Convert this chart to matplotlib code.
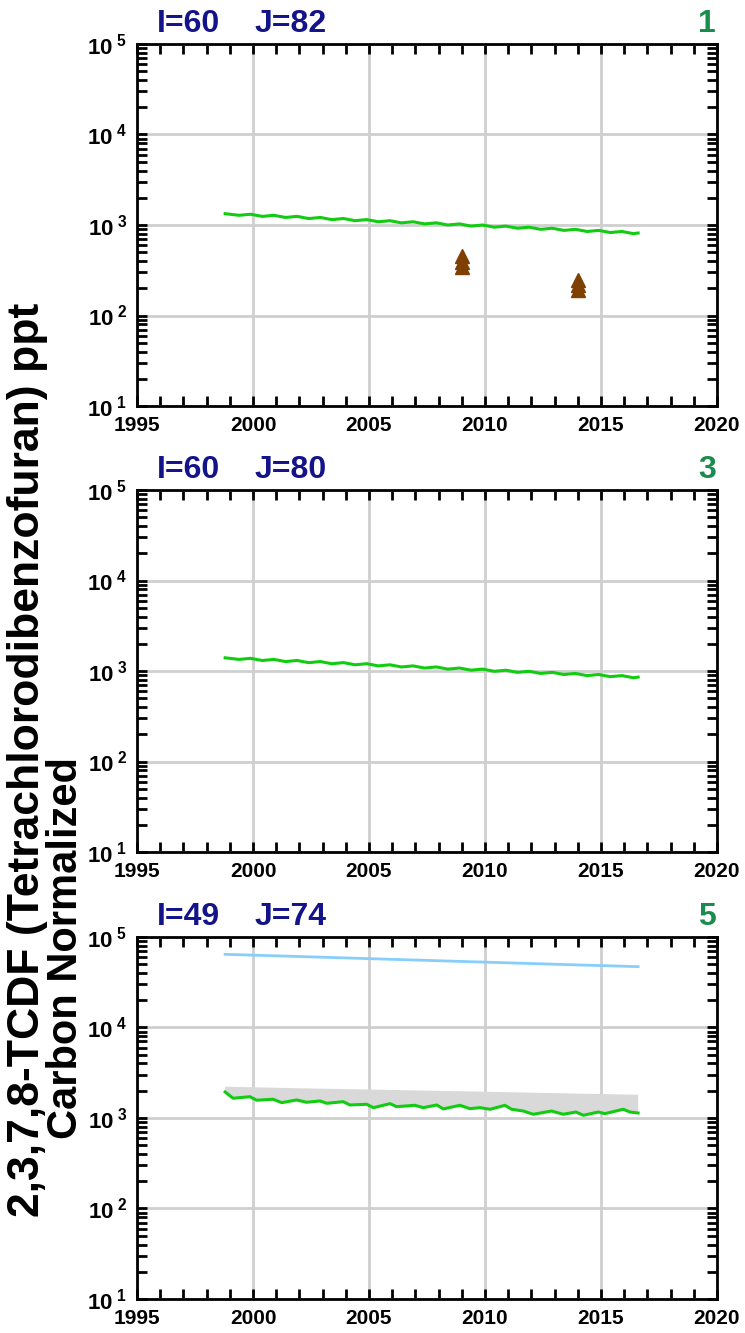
import numpy as np
import matplotlib
matplotlib.use("Agg")
import matplotlib.pyplot as plt
from matplotlib.ticker import LogLocator, MultipleLocator, NullFormatter

plt.rcParams['font.family'] = ['Liberation Sans', 'DejaVu Sans']
plt.rcParams['font.weight'] = 'bold'
plt.rcParams['mathtext.fontset'] = 'custom'
plt.rcParams['mathtext.rm'] = 'Liberation Sans:bold'
plt.rcParams['mathtext.it'] = 'Liberation Sans:bold'
plt.rcParams['mathtext.bf'] = 'Liberation Sans:bold'

# panel headers
panel_i = ["I=60", "I=60", "I=49"]
panel_j = ["J=82", "J=80", "J=74"]
panel_num = ["1", "3", "5"]

# model series, panels 1 and 2 (semi-annual readings)
t12 = [1998.8, 1999.4, 1999.9, 2000.4, 2000.9, 2001.4, 2001.9, 2002.4, 2002.9,
       2003.4, 2003.9, 2004.4, 2004.9, 2005.4, 2005.9, 2006.4, 2006.9, 2007.4,
       2007.9, 2008.4, 2008.9, 2009.4, 2009.9, 2010.4, 2010.9, 2011.4, 2011.9,
       2012.4, 2012.9, 2013.4, 2013.9, 2014.4, 2014.9, 2015.4, 2015.9, 2016.4,
       2016.6]
model1 = [1334, 1280, 1315, 1245, 1280, 1212, 1246, 1178, 1212, 1147, 1180, 1116,
          1148, 1086, 1116, 1056, 1086, 1028, 1057, 1000, 1028, 973, 1000, 946, 972,
          921, 946, 896, 921, 872, 896, 848, 872, 826, 848, 803, 816]
model2 = [1400, 1344, 1381, 1307, 1344, 1273, 1308, 1237, 1273, 1204, 1239, 1172,
          1205, 1140, 1172, 1109, 1140, 1079, 1110, 1050, 1079, 1022, 1050, 993, 1021,
          967, 993, 941, 967, 916, 941, 890, 916, 867, 890, 843, 857]

# observations, panel 1
obs_t = [2009.0, 2009.0, 2009.0, 2014.0, 2014.0, 2014.0]
obs_v = [450, 390, 340, 245, 215, 192]

# model series, panel 3
t3 = [1998.8, 1999.14, 1999.87, 2000.16, 2000.86, 2001.24, 2001.88, 2002.31,
      2002.89, 2003.18, 2003.89, 2004.18, 2004.9, 2005.19, 2005.91, 2006.19,
      2006.98, 2007.34, 2007.92, 2008.2, 2008.92, 2009.35, 2009.78, 2010.22,
      2010.86, 2011.15, 2011.65, 2012.08, 2012.87, 2013.37, 2013.92, 2014.24,
      2014.88, 2015.17, 2015.96, 2016.25, 2016.6]
model3 = [1937, 1652, 1719, 1571, 1611, 1477, 1582, 1492, 1542, 1453, 1514, 1393,
          1417, 1300, 1440, 1334, 1381, 1300, 1393, 1260, 1381, 1268, 1300, 1248,
          1380, 1248, 1194, 1099, 1194, 1099, 1164, 1071, 1164, 1117, 1248, 1164,
          1135]
band_t = [1998.8, 2002.0, 2006.0, 2010.0, 2014.0, 2016.6]
band_top = [2218, 2130, 2040, 1950, 1860, 1806]
blue_t = [1998.8, 2002.0, 2006.0, 2010.0, 2014.0, 2016.6]
blue_v = [64300, 60800, 56600, 52700, 49100, 47000]

navy = '#13138a'
green_txt = '#1a8c4e'
line_green = '#11cc11'

fig = plt.figure(figsize=(7.45, 13.33), dpi=100)
bottoms = [0.6954, 0.3608, 0.0255]
axes = []
for k in range(3):
    ax = fig.add_axes([0.1839, bottoms[k], 0.7785, 0.2716])
    axes.append(ax)

    ax.set_yscale('log')
    ax.set_xlim(1995, 2020)
    ax.set_ylim(10, 1e5)
    ax.set_xticks(range(1995, 2021, 5))
    ax.set_xticklabels([str(y) for y in range(1995, 2021, 5)], fontsize=15, fontweight='bold')
    ax.xaxis.set_minor_locator(MultipleLocator(1))
    ax.set_yticks([1e1, 1e2, 1e3, 1e4, 1e5])
    ax.set_yticklabels([r'$10^{\ %d}$' % e for e in range(1, 6)], fontsize=16)
    ax.yaxis.set_minor_locator(LogLocator(base=10, subs=np.arange(2, 10), numticks=20))
    ax.yaxis.set_minor_formatter(NullFormatter())
    ax.tick_params(which='both', direction='in', top=True, right=True, width=2, length=7)
    ax.tick_params(axis='x', pad=7)
    ax.tick_params(axis='y', pad=7)
    ax.grid(True, which='major', color='#cfcfcf', linewidth=2)
    ax.set_axisbelow(True)
    for s in ax.spines.values():
        s.set_linewidth(2)

    ax.text(0.0345, 1.033, panel_i[k], transform=ax.transAxes, fontsize=23,
            fontweight='bold', color=navy, va='baseline', ha='left')
    ax.text(0.203, 1.033, panel_j[k], transform=ax.transAxes, fontsize=23,
            fontweight='bold', color=navy, va='baseline', ha='left')
    ax.text(0.998, 1.033, panel_num[k], transform=ax.transAxes, fontsize=23,
            fontweight='bold', color=green_txt, va='baseline', ha='right')

# panel 1
axes[0].plot(t12, model1, color=line_green, linewidth=2.2, zorder=3)
axes[0].plot(obs_t, obs_v, linestyle='none', marker='^', markersize=10,
             color='#7f3f00', zorder=4)

# panel 2
axes[1].plot(t12, model2, color=line_green, linewidth=2.2, zorder=3)

# panel 3: shaded range, model line, light blue line
axes[2].fill(np.r_[t3, band_t[::-1]], np.r_[model3, band_top[::-1]],
             color='#d9d9d9', linewidth=0, zorder=2)
axes[2].plot(t3, model3, color=line_green, linewidth=2.2, zorder=3)
axes[2].plot(blue_t, blue_v, color='#87cefa', linewidth=2, zorder=3)

# y label
fig.text(0.037, 0.43, "2,3,7,8-TCDF (Tetrachlorodibenzofuran) ppt", rotation=90,
         fontsize=32, fontweight='bold', ha='center', va='center')
fig.text(0.089, 0.289, "Carbon Normalized", rotation=90,
         fontsize=30, fontweight='bold', ha='center', va='center')

fig.savefig("out.png", dpi=100)
